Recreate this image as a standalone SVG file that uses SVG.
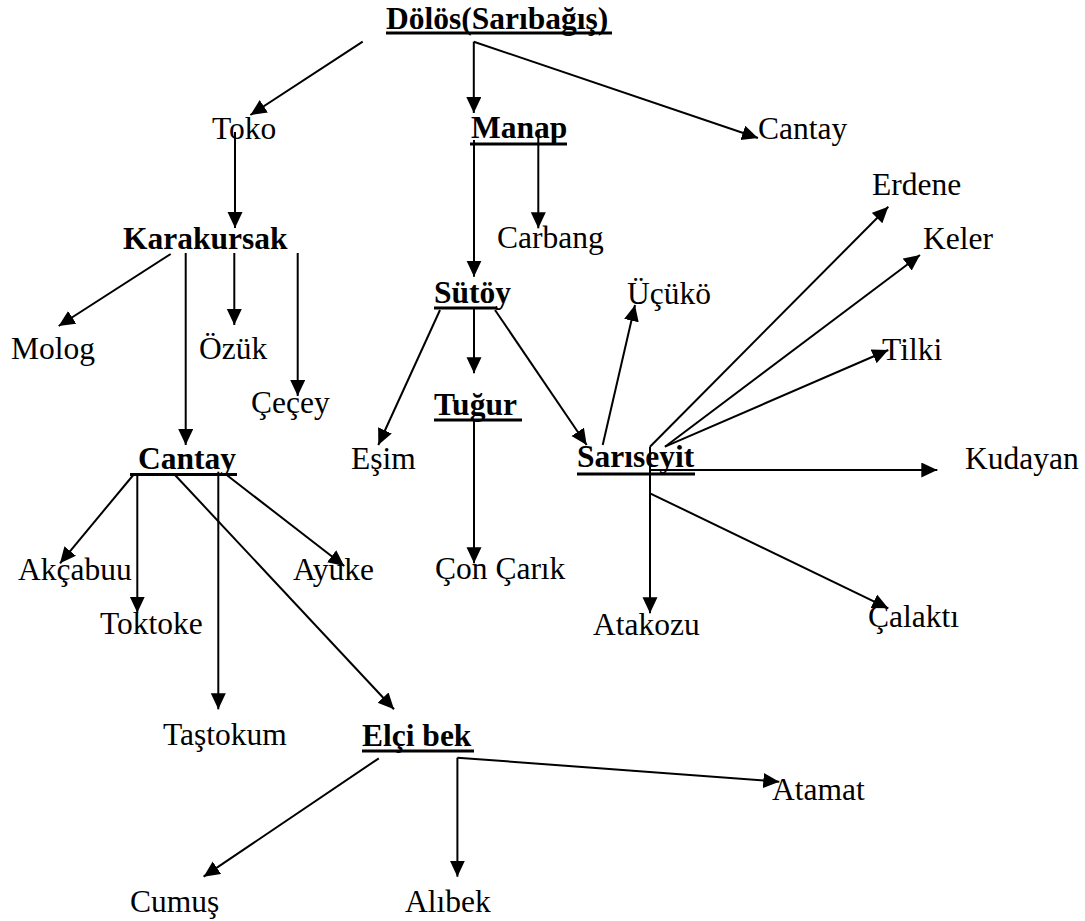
<svg xmlns="http://www.w3.org/2000/svg" width="1085" height="921" viewBox="0 0 1085 921">
<defs>
<marker id="ah" markerUnits="userSpaceOnUse" markerWidth="17" markerHeight="16" refX="16" refY="7.5" orient="auto">
<path d="M0,0 L16,7.5 L0,15 z" fill="#000"/>
</marker>
<style>
text{font-family:"Liberation Serif","Times New Roman",serif;font-size:31.5px;fill:#000}
.b{font-weight:bold}
.ul{stroke:#000;stroke-width:3}
#connectors line{stroke:#000;stroke-width:2;marker-end:url(#ah)}
</style>
</defs>
<rect width="1085" height="921" fill="#fff"/>
<g id="connectors">
<line x1="362.7" y1="41.7" x2="250.4" y2="115"/>
<line x1="473.8" y1="41.7" x2="473.8" y2="113"/>
<line x1="473.8" y1="41.7" x2="758" y2="138"/>
<line x1="235" y1="132" x2="235" y2="228"/>
<line x1="170.7" y1="254" x2="58.7" y2="326"/>
<line x1="185.7" y1="253" x2="185.7" y2="445"/>
<line x1="234.3" y1="253" x2="234.3" y2="325"/>
<line x1="297.7" y1="253" x2="297.7" y2="396"/>
<line x1="538.3" y1="131" x2="538.3" y2="228.3"/>
<line x1="474" y1="140" x2="474" y2="276.7"/>
<line x1="440" y1="310" x2="378.3" y2="445"/>
<line x1="474" y1="308" x2="474" y2="373.3"/>
<line x1="495" y1="310" x2="586.7" y2="445"/>
<line x1="474" y1="420" x2="474" y2="563.3"/>
<line x1="602.7" y1="445" x2="635" y2="305"/>
<line x1="650" y1="446.7" x2="888.3" y2="206.7"/>
<line x1="665" y1="446.7" x2="920" y2="255"/>
<line x1="665" y1="446.7" x2="888.3" y2="350"/>
<line x1="650" y1="470" x2="937.3" y2="470"/>
<line x1="650" y1="446.7" x2="650" y2="613.3"/>
<line x1="650" y1="493.3" x2="888.3" y2="608.3"/>
<line x1="133.3" y1="475" x2="60" y2="563.3"/>
<line x1="137.3" y1="475" x2="137.3" y2="612.7"/>
<line x1="218.3" y1="471.7" x2="218.3" y2="709.3"/>
<line x1="226.7" y1="475" x2="344.3" y2="566"/>
<line x1="175" y1="475" x2="394" y2="709.3"/>
<line x1="378.8" y1="758.3" x2="203.6" y2="876.7"/>
<line x1="457.4" y1="757.7" x2="457.4" y2="876.7"/>
<line x1="457.4" y1="757.7" x2="779.3" y2="781.7"/>
</g>
<g id="n-dolos"><text class="b" x="386" y="29">Dölös(Sarıbağış)</text><line class="ul" x1="386" y1="33" x2="612" y2="33"/></g>
<g id="n-toko"><text x="212" y="139">Toko</text></g>
<g id="n-manap"><text class="b" x="471" y="138">Manap</text><line class="ul" x1="470" y1="144" x2="567" y2="144"/></g>
<g id="n-cantay1"><text x="758" y="139">Cantay</text></g>
<g id="n-erdene"><text x="872" y="195">Erdene</text></g>
<g id="n-karakursak"><text class="b" x="123" y="249">Karakursak</text></g>
<g id="n-carbang"><text x="497" y="248">Carbang</text></g>
<g id="n-keler"><text x="923" y="249">Keler</text></g>
<g id="n-sutoy"><text class="b" x="434" y="303">Sütöy</text><line class="ul" x1="434" y1="308" x2="497" y2="308"/></g>
<g id="n-ucuko"><text x="627" y="304">Üçükö</text></g>
<g id="n-molog"><text x="11" y="359">Molog</text></g>
<g id="n-ozuk"><text x="199" y="359">Özük</text></g>
<g id="n-tilki"><text x="882" y="360">Tilki</text></g>
<g id="n-cecey"><text x="251" y="413">Çeçey</text></g>
<g id="n-tugur"><text class="b" x="434" y="415">Tuğur</text><line class="ul" x1="434" y1="420" x2="522" y2="420"/></g>
<g id="n-esim"><text x="351" y="469">Eşim</text></g>
<g id="n-cantay2"><text class="b" x="138" y="469">Cantay</text><line class="ul" x1="130" y1="474.5" x2="237" y2="474.5"/></g>
<g id="n-sariseyit"><text class="b" x="577" y="467">Sarıseyit</text><line class="ul" x1="577" y1="474" x2="695" y2="474"/></g>
<g id="n-kudayan"><text x="965" y="469">Kudayan</text></g>
<g id="n-concarik"><text x="435" y="579">Çon Çarık</text></g>
<g id="n-akcabuu"><text x="18" y="580">Akçabuu</text></g>
<g id="n-ayuke"><text x="293" y="580">Ayuke</text></g>
<g id="n-toktoke"><text x="100" y="634">Toktoke</text></g>
<g id="n-atakozu"><text x="593" y="635">Atakozu</text></g>
<g id="n-calakti"><text x="868" y="627">Çalaktı</text></g>
<g id="n-tastokum"><text x="163" y="745">Taştokum</text></g>
<g id="n-elcibek"><text class="b" x="362" y="746">Elçi bek</text><line class="ul" x1="362" y1="751" x2="474" y2="751"/></g>
<g id="n-atamat"><text x="772" y="800">Atamat</text></g>
<g id="n-cumus"><text x="130" y="912">Cumuş</text></g>
<g id="n-alibek"><text x="405" y="912">Alıbek</text></g>
</svg>
